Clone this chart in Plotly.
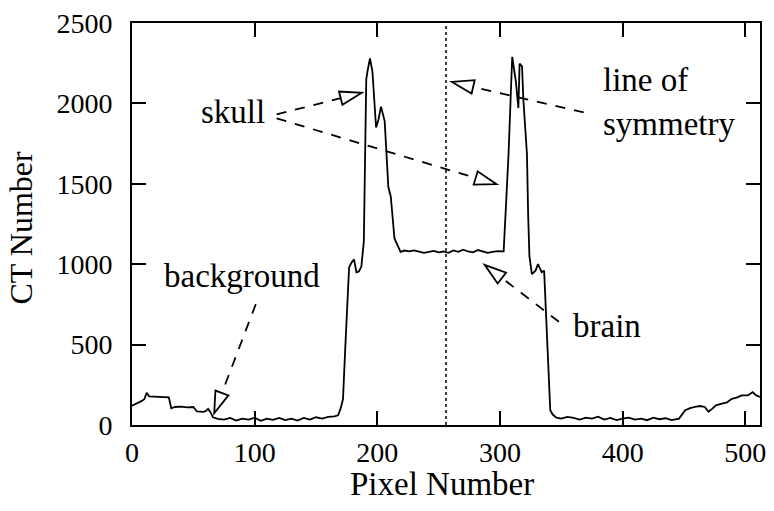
import plotly.graph_objects as go

# ---- data: CT profile (pixel number, CT number) ----
pixel = [0, 3, 8, 10, 12, 14, 20, 25, 30, 32, 35, 40, 45, 50, 53, 58, 60, 62, 64, 66,
         70, 75, 80, 85, 90, 95, 100, 105, 110, 115, 120, 125, 130, 135, 140, 145, 150,
         155, 160, 165, 168, 170, 172, 174, 176, 177, 179, 181, 183, 185, 187, 189, 190,
         191, 192, 194, 196, 199, 201, 203, 206, 209, 211, 214, 217, 219,
         222, 226, 230, 234, 238, 242, 246, 250, 254, 258, 262, 266, 270, 274, 278, 282,
         286, 290, 294, 298, 302, 303, 305, 307, 309, 310, 313, 315, 316, 318, 319, 322,
         323, 324, 326, 329, 331, 334, 336, 339, 341, 343,
         346, 350, 355, 360, 365, 370, 375, 380, 385, 390, 395, 400, 405, 410, 415, 420,
         425, 430, 435, 440, 446, 451, 455, 459, 463, 467, 470, 473, 476, 481, 485, 489,
         493, 497, 502, 506, 509, 512]
ct = [120, 130, 150, 160, 200, 178, 176, 174, 172, 104, 112, 114, 110, 112, 84, 82, 86, 100, 80, 48,
      38, 34, 44, 28, 40, 34, 46, 26, 40, 32, 44, 30, 40, 28, 44, 34, 48,
      40, 50, 54, 60, 100, 160, 500, 800, 980, 1010, 1030, 950, 955, 985, 1140, 1650,
      2150, 2200, 2280, 2200, 1850, 1900, 1980, 1890, 1480, 1420, 1160, 1110, 1077,
      1085, 1080, 1086, 1078, 1070, 1076, 1083, 1074, 1079, 1071, 1086, 1077, 1090, 1079, 1074, 1088,
      1077, 1070, 1076, 1081, 1080, 1080, 1380, 1685, 2094, 2290, 2134, 1971, 2247, 2230, 2032, 1685,
      1300, 1052, 939, 960, 1001, 950, 960, 400, 92, 65,
      45, 40, 50, 44, 34, 46, 40, 52, 34, 44, 30, 40, 46, 34, 40, 30,
      46, 36, 42, 30, 40, 92, 105, 112, 118, 112, 82, 100, 122, 133, 140, 163,
      170, 184, 184, 204, 184, 174]

x_ticks = [0, 100, 200, 300, 400, 500]
y_ticks = [0, 500, 1000, 1500, 2000, 2500]
symmetry_x = 256

FONT = "Liberation Serif"
W, H = 774, 511

# plot area in pixels (for placing annotation arrows)
L, R, T, B = 132, 766, 16, 425
XR, YR = (0, 512), (0, 2500)


def px2d(px, py):
    x = XR[0] + (px - L) / (R - L) * (XR[1] - XR[0])
    y = YR[0] + (B - py) / (B - T) * (YR[1] - YR[0])
    return x, y


def px2paper(px, py):
    return (px - L) / (R - L), (B - py) / (B - T)


fig = go.Figure()
fig.add_trace(go.Scatter(x=pixel, y=ct, mode="lines",
                         line=dict(color="black", width=1.8), showlegend=False,
                         hoverinfo="skip"))

shapes = []
# line of symmetry
shapes.append(dict(type="line", xref="x", yref="y", x0=symmetry_x, x1=symmetry_x,
                   y0=YR[0], y1=YR[1], line=dict(color="black", width=1.5, dash="dot")))

# dashed arrows with hollow triangular heads (pixel coords tail -> tip)
arrows = [((278, 109), (364, 87)),
          ((278, 113), (500, 180)),
          ((588, 107), (455, 76)),
          ((563, 320), (488, 262)),
          ((257, 302), (215, 413))]
HL, HW = 22, 7
for (tx, ty), (hx, hy) in arrows:
    dx, dy = hx - tx, hy - ty
    n = (dx * dx + dy * dy) ** 0.5
    ux, uy = dx / n, dy / n
    bx, by = hx - ux * HL, hy - uy * HL
    px_, py_ = -uy, ux
    p1 = (bx + px_ * HW, by + py_ * HW)
    p2 = (bx - px_ * HW, by - py_ * HW)
    a0 = px2d(tx, ty)
    a1 = px2d(bx, by)
    shapes.append(dict(type="line", xref="x", yref="y", x0=a0[0], y0=a0[1],
                       x1=a1[0], y1=a1[1],
                       line=dict(color="black", width=1.8, dash="10px,9px")))
    q0 = px2d(hx, hy)
    q1 = px2d(*p1)
    q2 = px2d(*p2)
    path = f"M{q0[0]},{q0[1]} L{q1[0]},{q1[1]} L{q2[0]},{q2[1]} Z"
    shapes.append(dict(type="path", xref="x", yref="y", path=path,
                       fillcolor="white", line=dict(color="black", width=1.8)))

annots = []


def txt(text, px, py, xanchor="center", size=33):
    x, y = px2d(px, py)
    annots.append(dict(x=x, y=y, xref="x", yref="y", text=text, showarrow=False,
                       xanchor=xanchor, yanchor="middle",
                       font=dict(family=FONT, size=size, color="black")))


txt("skull", 234, 107)
txt("line of", 605, 74, "left")
txt("symmetry", 605, 119, "left")
txt("background", 243, 273)
txt("brain", 612, 324)

# axis titles
xt = px2paper(445, 485)
annots.append(dict(x=xt[0], y=xt[1], xref="paper", yref="paper", text="Pixel Number",
                   showarrow=False, xanchor="center", yanchor="middle",
                   font=dict(family=FONT, size=33, color="black")))
yt = px2paper(20, 224)
annots.append(dict(x=yt[0], y=yt[1], xref="paper", yref="paper", text="CT Number",
                   showarrow=False, xanchor="center", yanchor="middle", textangle=-90,
                   font=dict(family=FONT, size=32, color="black")))

fig.update_layout(
    width=W, height=H,
    margin=dict(l=L, r=W - R, t=T, b=H - B),
    paper_bgcolor="white", plot_bgcolor="white",
    shapes=shapes, annotations=annots,
    font=dict(family=FONT, color="black"),
)
axis_common = dict(showline=True, linecolor="black", linewidth=2, mirror="ticks",
                   ticks="inside", ticklen=14, tickwidth=1.5, tickcolor="black",
                   showgrid=False, zeroline=False,
                   tickfont=dict(family=FONT, size=28, color="black"))
fig.update_xaxes(range=list(XR), tickvals=x_ticks, ticktext=[str(v) for v in x_ticks],
                 ticklabelstandoff=1, **axis_common)
fig.update_yaxes(range=list(YR), tickvals=y_ticks, ticktext=[str(v) for v in y_ticks],
                 ticklabelstandoff=12, **axis_common)

fig.write_html("out.html")
